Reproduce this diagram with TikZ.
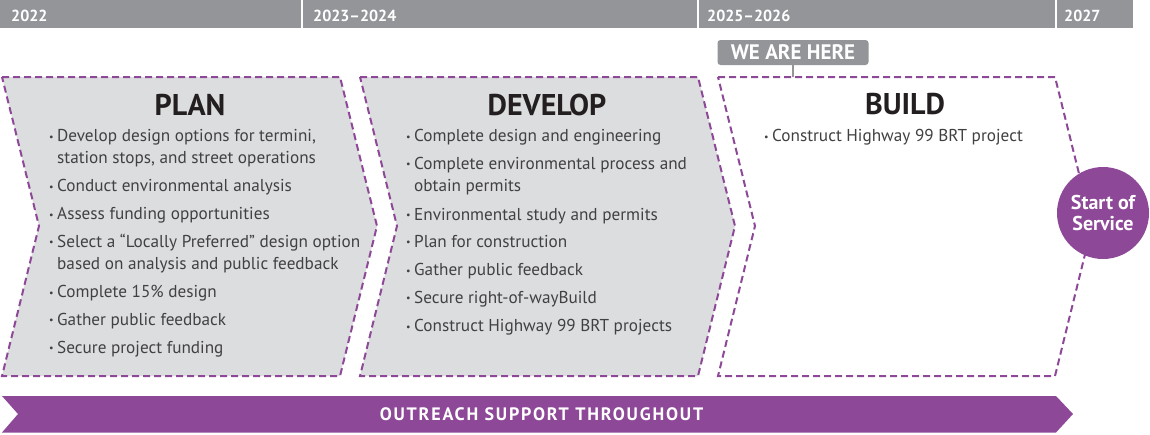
\documentclass[tikz,border=0pt]{standalone}
\usepackage{fontspec}
\setmainfont{PT Sans}
\definecolor{bargray}{HTML}{939598}
\definecolor{panelgray}{HTML}{DCDDDE}
\definecolor{phasepurple}{HTML}{8D4898}
\definecolor{bodytext}{HTML}{414042}
\definecolor{titletext}{HTML}{231F20}
\tikzset{
	panel/.style={draw=phasepurple, line width=2pt, dash pattern=on 7pt off 4pt, line join=miter},
	yeartext/.style={text=white, font=\fontsize{16}{16}\selectfont\bfseries, anchor=base west, inner sep=0pt},
	phasetitle/.style={text=titletext, font=\fontsize{30}{30}\selectfont\bfseries, anchor=base, inner sep=0pt},
	itemtext/.style={text=bodytext, font=\fontsize{17.2}{17.2}\selectfont, anchor=base west, inner sep=0pt}
}
\newcommand{\bul}{\makebox[8pt][l]{\raisebox{1.5pt}{\fontsize{10}{10}\selectfont\textbullet}}}
\begin{document}
\begin{tikzpicture}[x=1pt,y=-1pt]
		\useasboundingbox (0,0) rectangle (1150,434);
		% year bar
		\fill [bargray] (0,0) rectangle (301,28);
		\fill [bargray] (303,0) rectangle (697,28);
		\fill [bargray] (699,0) rectangle (1055,28);
		\fill [bargray] (1057,0) rectangle (1133,28);
		\node [yeartext] (y22) at (11,21.5) {2022};
		\node [yeartext] (y23) at (313,21.5) {2023–2024};
		\node [yeartext] (y25) at (707,21.5) {2025–2026};
		\node [yeartext] (y27) at (1064,21.5) {2027};
		% phases
		\filldraw [panel, fill=panelgray] (2,77) -- (340,77) -- (377,226) -- (340,376) -- (2,376) -- (39,226) -- cycle;
		\filldraw [panel, fill=panelgray] (360,77) -- (698,77) -- (735,226) -- (698,376) -- (360,376) -- (397,226) -- cycle;
		\filldraw [panel, fill=white] (718,77) -- (1055,77) -- (1092,226) -- (1055,376) -- (718,376) -- (755,226) -- cycle;
		% we are here
		\node [fill=bargray, rounded corners=3pt, minimum width=151, minimum height=25, inner sep=0pt,
			text=white, font=\fontsize{21}{21}\selectfont\bfseries] (here) at (793,52.5) {WE ARE HERE};
		\coordinate (buildtop) at (793,77);
		\draw [bargray, line width=1.5pt] (here.south) -- (buildtop);
		% plan
		\node [phasetitle] (plan) at (190,115) {PLAN};
		\node [itemtext] (p1) at (49,141.5) {\bul Develop design options for termini,};
		\node [itemtext] (p1b) at (57,163.5) {station stops, and street operations};
		\node [itemtext] (p2) at (49,191.5) {\bul Conduct environmental analysis};
		\node [itemtext] (p3) at (49,219.5) {\bul Assess funding opportunities};
		\node [itemtext] (p4) at (49,247) {\bul Select a “Locally Preferred” design option};
		\node [itemtext] (p4b) at (57,269.5) {based on analysis and public feedback};
		\node [itemtext] (p5) at (49,297.5) {\bul Complete 15\% design};
		\node [itemtext] (p6) at (49,325) {\bul Gather public feedback};
		\node [itemtext] (p7) at (49,353) {\bul Secure project funding};
		% develop
		\node [phasetitle] (develop) at (547,115) {DEVELOP};
		\node [itemtext] (d1) at (406,141.5) {\bul Complete design and engineering};
		\node [itemtext] (d2) at (406,169) {\bul Complete environmental process and};
		\node [itemtext] (d2b) at (414,191.5) {obtain permits};
		\node [itemtext] (d3) at (406,220) {\bul Environmental study and permits};
		\node [itemtext] (d4) at (406,247) {\bul Plan for construction};
		\node [itemtext] (d5) at (406,275.5) {\bul Gather public feedback};
		\node [itemtext] (d6) at (406,303) {\bul Secure right-of-wayBuild};
		\node [itemtext] (d7) at (406,331.5) {\bul Construct Highway 99 BRT projects};
		% build
		\node [phasetitle] (build) at (905,114) {BUILD};
		\node [itemtext] (b1) at (764,141.5) {\bul Construct Highway 99 BRT project};
		% start of service
		\node [circle, fill=phasepurple, minimum size=92, inner sep=0pt, align=center,
			text=white, font=\fontsize{20}{21.5}\selectfont\bfseries] (start) at (1103,213) {Start of\\Service};
		% outreach
		\fill [phasepurple] (2,396) -- (1056,396) -- (1073,414) -- (1056,432.5) -- (2,432.5) -- (18,414) -- cycle;
		\node [text=white, font=\fontsize{18}{18}\selectfont\bfseries\addfontfeature{LetterSpace=10}, anchor=base, inner sep=0pt]
			(outreach) at (541.5,420.5) {OUTREACH SUPPORT THROUGHOUT};
\end{tikzpicture}
\end{document}
